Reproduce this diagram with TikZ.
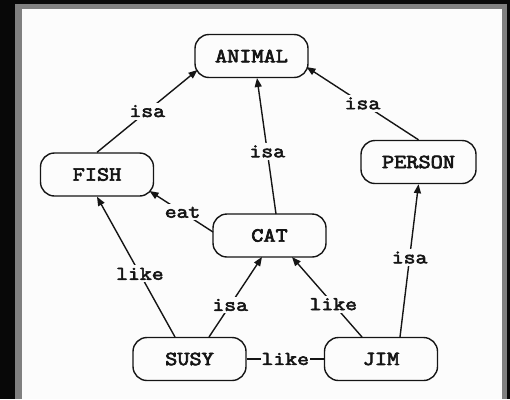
\documentclass[tikz,border=0pt]{standalone}
\usepackage{fontspec}
\newfontfamily\courfont[FakeStretch=1.18,FakeBold=3.5]{Latin Modern Mono}
\newfontfamily\courlblfont[FakeStretch=1.18,FakeBold=3]{Latin Modern Mono}
\usetikzlibrary{arrows.meta,calc}
\definecolor{frameblack}{HTML}{080808}
\definecolor{framegray}{HTML}{808080}
\definecolor{paper}{HTML}{FCFCFC}
\definecolor{ink}{HTML}{151515}
\begin{document}
\begin{tikzpicture}[x=1pt,y=-1pt,
  box/.style={draw=ink,line width=1.4pt,rounded corners=14pt,minimum width=113pt,minimum height=43pt,inner sep=0pt,fill=paper,text=ink,font=\fontsize{20}{20}\selectfont\courfont},
  lbl/.style={fill=paper,inner xsep=2pt,inner ysep=2.5pt,text=ink,font=\fontsize{19.5}{19.5}\selectfont\courlblfont},
  link/.style={draw=ink,line width=1.4pt},
  arr/.style={link,-{Triangle[length=9pt,width=7pt]}}]
\useasboundingbox (0,0) rectangle (510,399);
\fill[frameblack] (0,0) rectangle (510,399);
\fill[framegray] (15,4) rectangle (507,399);
\fill[paper] (22,9) rectangle (502,399);

\node[box] (ANIMAL) at (251.5,56) {ANIMAL};
\node[box] (FISH) at (97,174.5) {FISH};
\node[box,minimum width=115pt] (PERSON) at (418.5,162) {PERSON};
\node[box] (CAT) at (269.5,235.5) {CAT};
\node[box] (SUSY) at (189.5,359) {SUSY};
\node[box] (JIM) at (381,359) {JIM};

\draw[arr] (FISH.north) -- node[lbl,pos=0.5] {isa} ($(ANIMAL.center)+(-54,14)$);
\draw[arr] ($(CAT.center)+(6.5,-21.5)$) -- node[lbl,pos=0.46] {isa} ($(ANIMAL.center)+(5.5,22)$);
\draw[arr] (PERSON.north) -- node[lbl,pos=0.5] {isa} ($(ANIMAL.center)+(55,11)$);
\draw[arr] ($(CAT.center)+(-56.5,-3.5)$) -- node[lbl,pos=0.48] {eat} ($(FISH.center)+(52.5,16.5)$);
\draw[arr] ($(SUSY.center)+(-14.5,-22)$) -- node[lbl,pos=0.45] {like} (FISH.south);
\draw[arr] ($(SUSY.center)+(19.5,-22)$) -- node[lbl,pos=0.4] {isa} ($(CAT.center)+(-7.5,21.5)$);
\draw[arr] ($(JIM.center)+(-19,-22)$) -- node[lbl,pos=0.41] {like} ($(CAT.center)+(22.5,21.5)$);
\draw[arr] ($(JIM.center)+(19,-22)$) -- node[lbl,pos=0.52] {isa} (PERSON.south);
\draw[link] (SUSY.east) -- node[lbl,inner xsep=1pt] {like} (JIM.west);
\end{tikzpicture}
\end{document}
